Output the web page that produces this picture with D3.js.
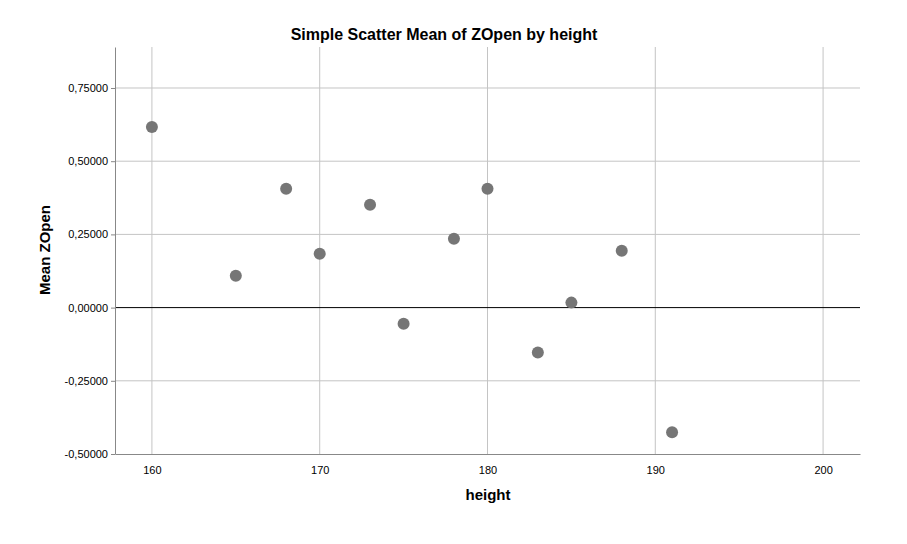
<!DOCTYPE html>
<html>
<head>
<meta charset="utf-8">
<script src="https://cdn.jsdelivr.net/npm/d3@7"></script>
<style>
  body { margin: 0; background: #fff; }
  text { font-family: "Liberation Sans", Arial, sans-serif; }
  .tick text { font-size: 11px; fill: #000; }
  .title, .axis-label { font-size: 15px; font-weight: bold; fill: #000; }
  .title { font-size: 16px; }
</style>
</head>
<body>
<svg id="chart"></svg>
<script>
// height values and mean ZOpen
const heights = [160, 165, 168, 170, 173, 175, 178, 180, 183, 185, 188, 191];
const meanZOpen = [0.617, 0.109, 0.406, 0.184, 0.351, -0.055, 0.235, 0.406, -0.153, 0.017, 0.194, -0.426];
const xTicks = [160, 170, 180, 190, 200];
const yTicks = [-0.5, -0.25, 0, 0.25, 0.5, 0.75];

const width = 907, height = 544;
const margin = {top: 47, right: 47, bottom: 90, left: 115};
const w = width - margin.left - margin.right;
const h = height - margin.top - margin.bottom;

const svg = d3.select('#chart')
    .attr('width', width)
    .attr('height', height);

const chart = svg.append('g')
    .attr('transform', `translate(${margin.left},${margin.top})`);

const xScale = d3.scaleLinear().domain([157.8, 202.2]).range([0, w]);
const yScale = d3.scaleLinear().domain([-0.5, 0.89]).range([h, 0]);

// gridlines
chart.append('g')
  .selectAll('line')
  .data(xTicks)
  .join('line')
    .attr('x1', d => xScale(d)).attr('x2', d => xScale(d))
    .attr('y1', 0).attr('y2', h)
    .attr('stroke', '#c4c4c4');

chart.append('g')
  .selectAll('line')
  .data(yTicks.filter(d => d !== 0 && d !== -0.5))
  .join('line')
    .attr('x1', 0).attr('x2', w)
    .attr('y1', d => yScale(d)).attr('y2', d => yScale(d))
    .attr('stroke', '#c4c4c4');

// zero reference line
chart.append('line')
    .attr('x1', 0).attr('x2', w)
    .attr('y1', yScale(0)).attr('y2', yScale(0))
    .attr('stroke', '#000');

// axes - comma decimals and plain hyphen minus like the source
const fmt = d => d.toFixed(5).replace('.', ',');
const yAxis = d3.axisLeft(yScale).tickValues(yTicks).tickFormat(fmt).tickSize(4).tickSizeOuter(0);
const xAxis = d3.axisBottom(xScale).tickValues(xTicks).tickSize(0).tickPadding(12).tickSizeOuter(0);

const yAxisG = chart.append('g').call(yAxis);
const xAxisG = chart.append('g').attr('transform', `translate(0,${h})`).call(xAxis);
[yAxisG, xAxisG].forEach(g => {
  g.select('.domain').attr('stroke', '#888');
  g.selectAll('.tick line').attr('stroke', '#888');
});

// points
chart.append('g')
  .selectAll('circle')
  .data(heights)
  .join('circle')
    .attr('cx', d => xScale(d))
    .attr('cy', (d, i) => yScale(meanZOpen[i]))
    .attr('r', 6)
    .attr('fill', '#767676');

// labels
svg.append('text')
    .attr('class', 'title')
    .attr('x', 444).attr('y', 40)
    .attr('text-anchor', 'middle')
    .text('Simple Scatter Mean of ZOpen by height');

svg.append('text')
    .attr('class', 'axis-label')
    .attr('x', 488).attr('y', 500)
    .attr('text-anchor', 'middle')
    .text('height');

svg.append('text')
    .attr('class', 'axis-label')
    .attr('transform', 'translate(50,250) rotate(-90)')
    .attr('text-anchor', 'middle')
    .text('Mean ZOpen');
</script>
</body>
</html>
